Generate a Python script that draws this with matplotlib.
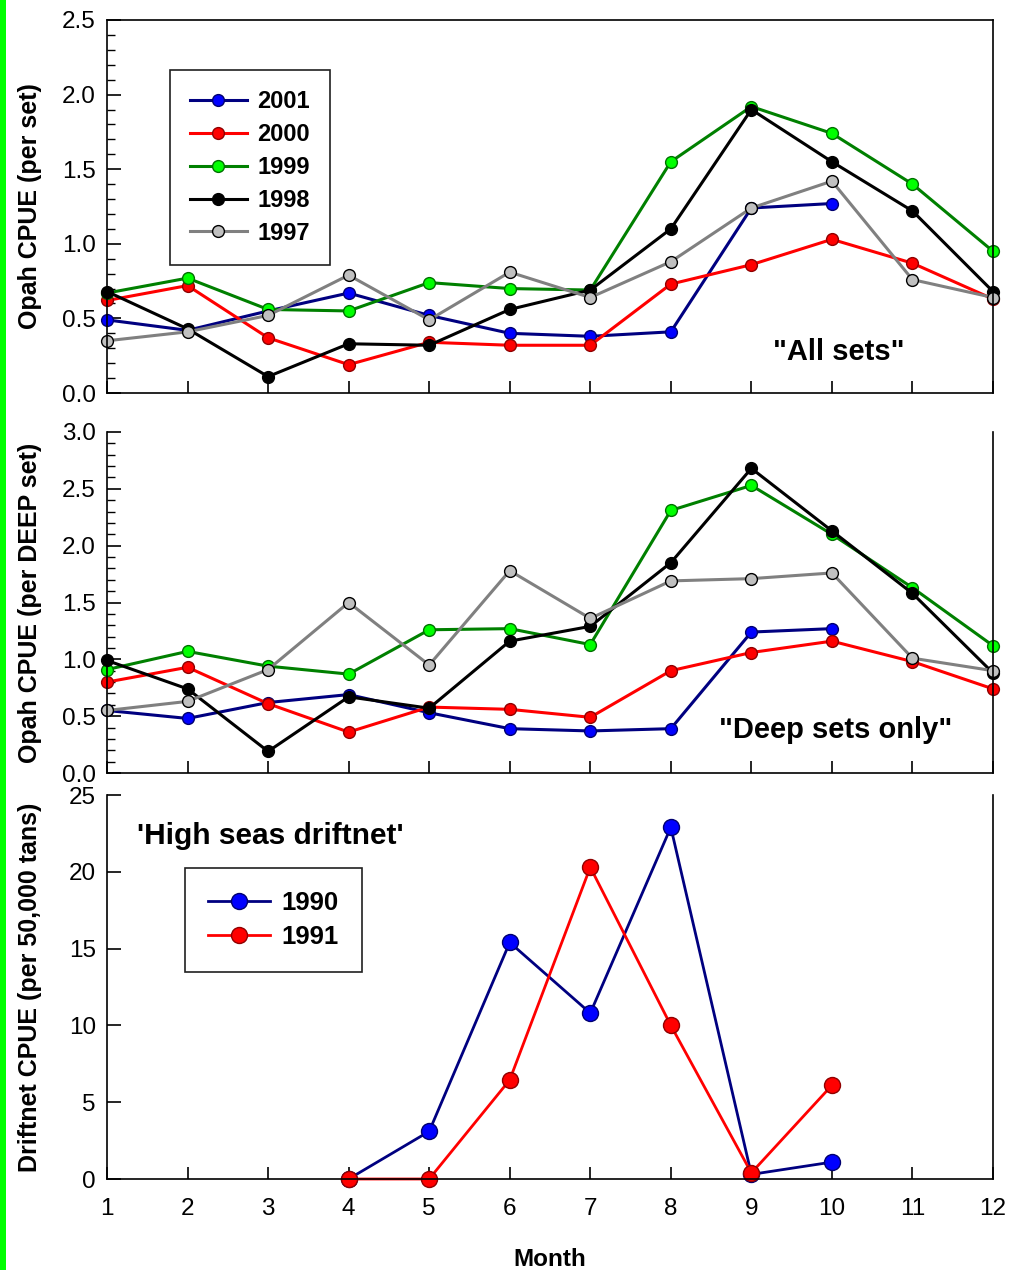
import matplotlib
matplotlib.use("Agg")
import matplotlib.pyplot as plt
from matplotlib.patches import Rectangle
from matplotlib.ticker import MultipleLocator, FormatStrFormatter, FixedLocator

plt.rcParams['font.family'] = ['Liberation Sans', 'DejaVu Sans']

months = list(range(1, 13))
months10 = list(range(1, 11))

# Panel 1: Opah CPUE (per set), "All sets"
all_2001 = [0.49, 0.42, 0.55, 0.67, 0.52, 0.40, 0.38, 0.41, 1.24, 1.27]
all_2000 = [0.62, 0.72, 0.37, 0.19, 0.34, 0.32, 0.32, 0.73, 0.86, 1.03, 0.87, 0.63]
all_1999 = [0.67, 0.77, 0.56, 0.55, 0.74, 0.70, 0.69, 1.55, 1.92, 1.74, 1.40, 0.95]
all_1998 = [0.68, 0.43, 0.11, 0.33, 0.32, 0.56, 0.69, 1.10, 1.90, 1.55, 1.22, 0.68]
all_1997 = [0.35, 0.41, 0.52, 0.79, 0.49, 0.81, 0.64, 0.88, 1.24, 1.42, 0.76, 0.64]

# Panel 2: Opah CPUE (per DEEP set), "Deep sets only"
deep_2001 = [0.55, 0.48, 0.62, 0.69, 0.53, 0.39, 0.37, 0.39, 1.24, 1.27]
deep_2000 = [0.80, 0.93, 0.61, 0.36, 0.58, 0.56, 0.49, 0.90, 1.06, 1.16, 0.98, 0.74]
deep_1999 = [0.91, 1.07, 0.94, 0.87, 1.26, 1.27, 1.13, 2.31, 2.53, 2.10, 1.63, 1.12]
deep_1998 = [0.99, 0.74, 0.19, 0.67, 0.57, 1.16, 1.29, 1.85, 2.68, 2.13, 1.58, 0.88]
deep_1997 = [0.55, 0.63, 0.91, 1.50, 0.95, 1.78, 1.36, 1.69, 1.71, 1.76, 1.01, 0.90]

# Panel 3: Driftnet CPUE (per 50,000 tans)
drift_months = [4, 5, 6, 7, 8, 9, 10]
drift_1990 = [0.0, 3.1, 15.4, 10.8, 22.9, 0.3, 1.1]
drift_1991 = [0.0, 0.0, 6.45, 20.3, 10.0, 0.4, 6.1]

years = ['2001', '2000', '1999', '1998', '1997']
y1_ticks = [0.0, 0.5, 1.0, 1.5, 2.0, 2.5]
y2_ticks = [0.0, 0.5, 1.0, 1.5, 2.0, 2.5, 3.0]
y3_ticks = [0, 5, 10, 15, 20, 25]

W, H = 1011, 1270
fig = plt.figure(figsize=(W / 100, H / 100), dpi=100)
fig.patch.set_facecolor('white')
fig.patches.append(Rectangle((0, 0), 6 / W, 1, transform=fig.transFigure,
                             facecolor='#00FF00', edgecolor='none'))

L, R = 107 / W, 993 / W


def ax_at(top_px, bot_px):
    return fig.add_axes([L, 1 - bot_px / H, R - L, (bot_px - top_px) / H])


ax1 = ax_at(20, 393)
ax2 = ax_at(432, 773)
ax3 = ax_at(795, 1179)

styles = {
    '2001': dict(color='#000080', mfc='#0000FF', mec='#000070'),
    '2000': dict(color='#FF0000', mfc='#FF0000', mec='#900000'),
    '1999': dict(color='#008000', mfc='#00FF00', mec='#007000'),
    '1998': dict(color='#000000', mfc='#000000', mec='#000000'),
    '1997': dict(color='#808080', mfc='#C0C0C0', mec='#000000'),
}

lw_top = 2.2
ms_top = 8.5
for ax, data in [(ax1, [all_2001, all_2000, all_1999, all_1998, all_1997]),
                 (ax2, [deep_2001, deep_2000, deep_1999, deep_1998, deep_1997])]:
    for year, vals in zip(years, data):
        st = styles[year]
        xs = months10 if len(vals) == 10 else months
        ax.plot(xs, vals, '-o', color=st['color'], lw=lw_top, ms=ms_top,
                mfc=st['mfc'], mec=st['mec'], mew=1.0, clip_on=False, label=year)

ax3.plot(drift_months, drift_1990, '-o', color='#000080', lw=2.0, ms=11.5,
         mfc='#0000FF', mec='#000070', mew=1.0, clip_on=False, label='1990')
ax3.plot(drift_months, drift_1991, '-o', color='#FF0000', lw=2.0, ms=11.5,
         mfc='#FF0000', mec='#900000', mew=1.0, clip_on=False, label='1991')

TICK_FS = 17.5
for ax in (ax1, ax2, ax3):
    ax.set_xlim(1, 12)
    ax.set_xticks(months)
    for s in ax.spines.values():
        s.set_linewidth(1.2)
    ax.tick_params(axis='both', which='major', direction='in', width=1.2,
                   labelsize=TICK_FS, right=False, top=False)
    ax.tick_params(axis='y', which='major', length=10, pad=8)
    ax.tick_params(axis='y', which='minor', direction='in', length=6, width=1.0,
                   right=False)
    ax.tick_params(axis='x', which='major', length=9, pad=14)

ax1.set_ylim(0, 2.5)
ax1.yaxis.set_major_locator(FixedLocator(y1_ticks))
ax1.yaxis.set_minor_locator(MultipleLocator(0.1))
ax1.yaxis.set_major_formatter(FormatStrFormatter('%.1f'))
ax1.tick_params(axis='x', labelbottom=False)

ax2.set_ylim(0, 3.0)
ax2.yaxis.set_major_locator(FixedLocator(y2_ticks))
ax2.yaxis.set_minor_locator(MultipleLocator(0.1))
ax2.yaxis.set_major_formatter(FormatStrFormatter('%.1f'))
ax2.tick_params(axis='x', labelbottom=False)
ax2.spines['top'].set_visible(False)

ax3.set_ylim(0, 25)
ax3.yaxis.set_major_locator(FixedLocator(y3_ticks))
ax3.spines['top'].set_visible(False)

LAB_FS = 18
for ax, lab in [(ax1, 'Opah CPUE (per set)'),
                (ax2, 'Opah CPUE (per DEEP set)'),
                (ax3, 'Driftnet CPUE (per 50,000 tans)')]:
    ax.set_ylabel(lab, fontsize=LAB_FS, fontweight='bold', va='center')
    ax.yaxis.set_label_coords(-0.087, 0.5)

ax3.set_xlabel('Month', fontsize=17.5, fontweight='bold', va='center')
ax3.xaxis.set_label_coords(0.5, -0.21)

ax1.text(10.09, 0.275, '"All sets"', fontsize=21, fontweight='bold',
         ha='center', va='center')
ax2.text(10.05, 0.38, '"Deep sets only"', fontsize=21, fontweight='bold',
         ha='center', va='center')
ax3.text(1.37, 22.3, "'High seas driftnet'", fontsize=21.5, fontweight='bold',
         ha='left', va='center')

leg1 = ax1.legend(loc='upper left', bbox_to_anchor=(0.071, 0.866),
                  borderaxespad=0, prop={'weight': 'bold', 'size': 17},
                  handlelength=2.4, handletextpad=0.45, labelspacing=0.42,
                  borderpad=0.85, fancybox=False, numpoints=1, framealpha=1)
leg1.get_frame().set_edgecolor('#202020')
leg1.get_frame().set_linewidth(1.2)

leg3 = ax3.legend(loc='upper left', bbox_to_anchor=(0.088, 0.810),
                  borderaxespad=0, prop={'weight': 'bold', 'size': 18.5},
                  handlelength=2.4, handletextpad=0.45, labelspacing=0.38,
                  borderpad=0.9, fancybox=False, numpoints=1, framealpha=1)
leg3.get_frame().set_edgecolor('#202020')
leg3.get_frame().set_linewidth(1.2)

fig.savefig('out.png', dpi=100)
